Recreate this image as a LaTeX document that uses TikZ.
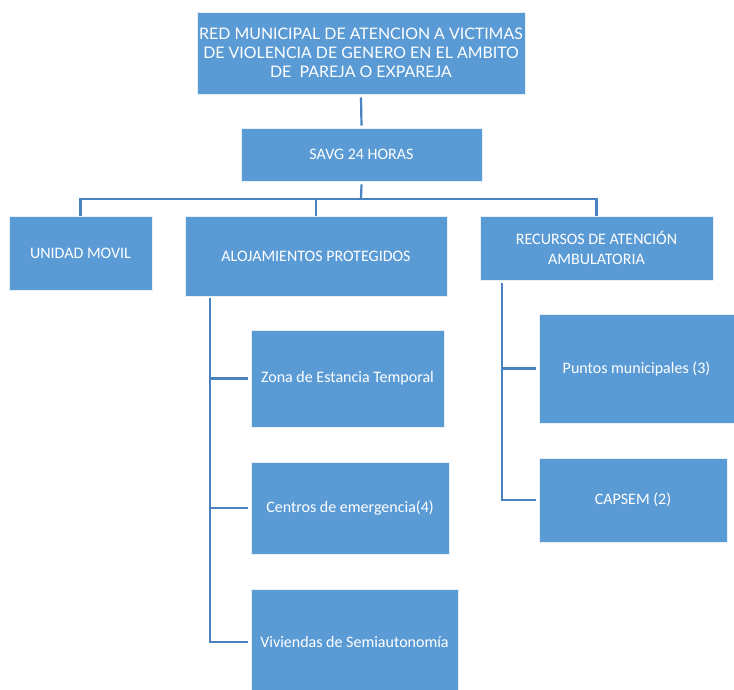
\documentclass[tikz,border=0pt]{standalone}
\usepackage{fontspec}
\setmainfont{Carlito}
\newfontfamily\titlefont{Lato}
\usepackage{tikz}
\usetikzlibrary{calc}
\definecolor{boxblue}{RGB}{91,155,213}
\definecolor{linkblue}{RGB}{72,130,192}
\tikzset{
  box/.style={rectangle, fill=boxblue, draw=white!85!boxblue, line width=0.6pt,
    text=white, align=center, inner sep=0pt,
    font=\fontsize{16}{20}\selectfont},
  link/.style={linkblue, line width=2.2pt}
}

\begin{document}
\begin{tikzpicture}[x=1pt,y=-1pt]
    \useasboundingbox (0,0) rectangle (734,689);

    % top of the tree
    \node[box, minimum width=328pt, minimum height=82pt, font=\titlefont\fontsize{15.9}{19}\selectfont] (red) at (361,53)
      {RED MUNICIPAL DE ATENCION A VICTIMAS\\DE VIOLENCIA DE GENERO EN EL AMBITO\\DE\ \ PAREJA O EXPAREJA};
    \node[box, minimum width=241pt, minimum height=53pt] (savg) at (361.5,154.5) {SAVG 24 HORAS};

    % second row
    \node[box, minimum width=143pt, minimum height=74pt] (movil) at (80.5,253) {UNIDAD MOVIL};
    \node[box, minimum width=262pt, minimum height=80pt] (aloja) at (316,256) {ALOJAMIENTOS PROTEGIDOS};
    \node[box, minimum width=233pt, minimum height=64pt] (recur) at (596.5,248) {RECURSOS DE ATENCI\'ON\\AMBULATORIA};

    % alojamientos
    \node[box, minimum width=193pt, minimum height=97pt] (zona) at (347.5,378.5) {Zona de Estancia Temporal};
    \node[box, minimum width=198pt, minimum height=92pt] (centros) at (350,508) {Centros de emergencia(4)};
    \node[box, minimum width=207pt, minimum height=106pt] (vivi) at (354.5,642) {Viviendas de Semiautonom\'ia};

    % ambulatoria
    \node[box, minimum width=195pt, minimum height=109pt] (puntos) at (636.5,368.5) {Puntos municipales (3)};
    \node[box, minimum width=188pt, minimum height=84pt] (capsem) at (633,500) {CAPSEM (2)};

    \coordinate (bus) at (361,199);
    \coordinate (aspine) at (210,298);
    \coordinate (rspine) at (502,283);

    \draw[link] ($(red.south)+(0,3)$) -- ($(savg.north)+(0,-2)$);
    \draw[link] ($(savg.south)+(0,3)$) -- (bus);
    \draw[link] (movil.north) |- (bus) -| (recur.north);
    \draw[link] (aloja.north) -- (aloja.north |- bus);

    \draw[link] (aspine) |- ($(vivi.west)+(-3,0)$);
    \draw[link] (aspine |- zona.west) -- ($(zona.west)+(-3,0)$);
    \draw[link] (aspine |- centros.west) -- ($(centros.west)+(-3,0)$);

    \draw[link] (rspine) |- ($(capsem.west)+(-3,0)$);
    \draw[link] (rspine |- puntos.west) -- ($(puntos.west)+(-3,0)$);
\end{tikzpicture}
\end{document}
